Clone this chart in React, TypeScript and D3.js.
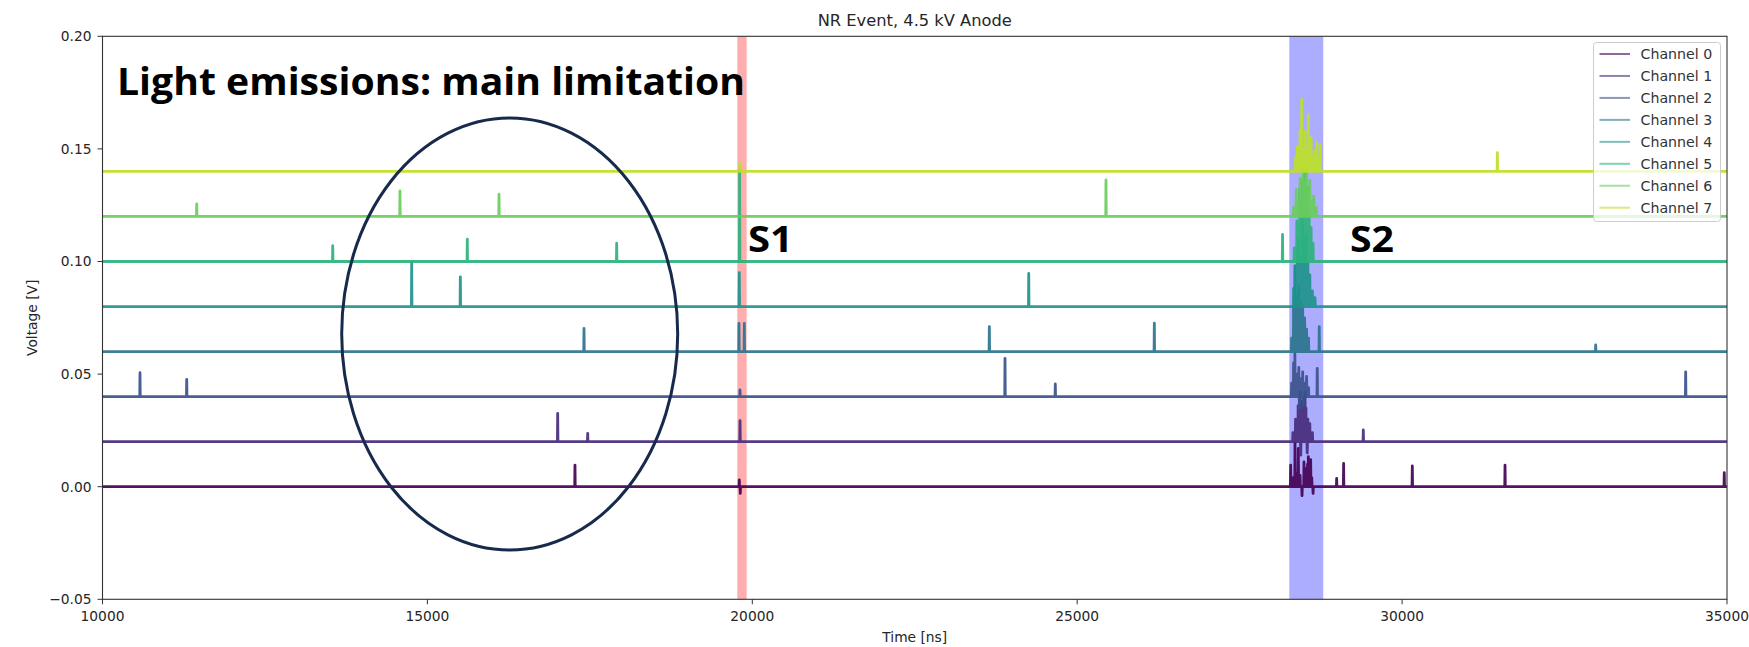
import React from "react";
import * as d3 from "d3";

// ---------- data ----------
const X_TICKS = [10000, 15000, 20000, 25000, 30000, 35000];
const Y_TICKS = [-0.05, 0.0, 0.05, 0.1, 0.15, 0.2];
const CHANNELS = ["Channel 0", "Channel 1", "Channel 2", "Channel 3", "Channel 4", "Channel 5", "Channel 6", "Channel 7"];
const BASELINES = [0.0, 0.02, 0.04, 0.06, 0.08, 0.1, 0.12, 0.14];
const S1_SPAN = [19769, 19913];
const S2_SPAN = [28264, 28787];

// spikes per channel: [time ns, voltage]
const ch0Spikes: [number, number][] = [
  [17271, 0.0096], [19800, 0.003], [19815, -0.003],
  [28285, 0.0096], [28320, 0.004], [28352, 0.0193], [28380, 0.006], [28403, 0.017], [28430, 0.005],
  [28460, -0.004], [28490, 0.011], [28520, 0.008], [28545, 0.01], [28557, 0.0133], [28593, 0.012],
  [28610, 0.004], [28630, -0.003], [28993, 0.0037], [29100, 0.0104],
  [30157, 0.0092], [31584, 0.0096], [34958, 0.0062],
];
const ch1Spikes: [number, number][] = [
  [17005, 0.0326], [17467, 0.0237], [19811, 0.0293],
  [28320, 0.024], [28360, 0.03], [28400, 0.036], [28430, 0.042], [28440, 0.014], [28460, 0.038],
  [28490, 0.04], [28506, 0.042], [28520, 0.035], [28540, 0.015], [28550, 0.03], [28580, 0.028], [28620, 0.024],
  [29403, 0.0252],
];
const ch2Spikes: [number, number][] = [
  [10577, 0.0506], [11296, 0.0477], [19810, 0.043],
  [23889, 0.057], [24663, 0.0456],
  [28300, 0.046], [28330, 0.055], [28350, 0.059], [28380, 0.05], [28410, 0.053], [28420, 0.035],
  [28440, 0.048], [28470, 0.051], [28480, 0.036], [28500, 0.046], [28530, 0.049], [28560, 0.044],
  [28694, 0.0525], [34364, 0.051],
];
const ch3Spikes: [number, number][] = [
  [17410, 0.0703], [19795, 0.0725], [19877, 0.0725], [23648, 0.0711], [26187, 0.0726],
  [28300, 0.066], [28330, 0.08], [28350, 0.098], [28380, 0.085], [28410, 0.089], [28440, 0.082],
  [28470, 0.08], [28500, 0.075], [28530, 0.07], [28560, 0.066], [28725, 0.0711],
  [32979, 0.063],
];
const ch4Spikes: [number, number][] = [
  [14758, 0.0999], [15507, 0.0932], [19800, 0.095], [24254, 0.0947],
  [28330, 0.088], [28360, 0.098], [28390, 0.105], [28410, 0.11], [28440, 0.102], [28470, 0.118],
  [28490, 0.108], [28520, 0.112], [28550, 0.1], [28580, 0.094], [28620, 0.087], [28660, 0.084],
];
const ch5Spikes: [number, number][] = [
  [13543, 0.107], [15614, 0.1099], [17913, 0.1081], [19805, 0.1403], [28160, 0.112],
  [28340, 0.106], [28380, 0.118], [28400, 0.112], [28425, 0.132], [28450, 0.124], [28470, 0.136],
  [28500, 0.14], [28520, 0.128], [28545, 0.133], [28570, 0.122], [28600, 0.115], [28630, 0.108],
];
const ch6Spikes: [number, number][] = [
  [11450, 0.1256], [14578, 0.1313], [16102, 0.1299], [25443, 0.1362],
  [28330, 0.124], [28370, 0.132], [28400, 0.126], [28430, 0.137], [28455, 0.128], [28480, 0.141],
  [28505, 0.135], [28530, 0.143], [28555, 0.131], [28580, 0.136], [28610, 0.127], [28640, 0.129], [28680, 0.124],
];
const ch7Spikes: [number, number][] = [
  [19811, 0.1437],
  [28360, 0.146], [28387, 0.151], [28410, 0.145], [28430, 0.158], [28455, 0.172], [28475, 0.15],
  [28490, 0.147], [28506, 0.158], [28530, 0.149], [28557, 0.165], [28575, 0.15], [28600, 0.155],
  [28620, 0.146], [28650, 0.149], [28685, 0.153], [28705, 0.146], [28736, 0.152],
  [31466, 0.1483],
];
const SPIKES = [ch0Spikes, ch1Spikes, ch2Spikes, ch3Spikes, ch4Spikes, ch5Spikes, ch6Spikes, ch7Spikes];

const TITLE = "NR Event, 4.5 kV Anode";
const X_LABEL = "Time [ns]";
const Y_LABEL = "Voltage [V]";
const NOTE = "Light emissions: main limitation";

// ---------- layout ----------
const W = 1749, H = 647;
const L = 102.5, R = 1727, T = 36.3, B = 599.3;

export default function App() {
  const x = d3.scaleLinear().domain([10000, 35000]).range([L, R]);
  const y = d3.scaleLinear().domain([-0.05, 0.2]).range([B, T]);
  const color = (i: number) => d3.interpolateViridis((i / 7) * 0.9);
  const line = d3.line<[number, number]>().x((d) => x(d[0])).y((d) => y(d[1]));

  const traces = SPIKES.map((sp, i) => {
    const base = BASELINES[i];
    const pts: [number, number][] = [[10000, base]];
    [...sp].sort((a, b) => a[0] - b[0]).forEach(([t, v]) => {
      pts.push([t - 4, base], [t, v], [t + 4, base]);
    });
    pts.push([35000, base]);
    return pts;
  });

  const tickFont = "DejaVu Sans, sans-serif";
  const fmt = (v: number) => v.toFixed(2).replace("-", "\u2212");

  return (
    <svg width={W} height={H} style={{ position: "absolute", left: 0, top: 0, background: "#fff" }}>
      <rect x={0} y={0} width={W} height={H} fill="#fff" />
      {/* spans */}
      <rect x={x(S1_SPAN[0])} y={T} width={x(S1_SPAN[1]) - x(S1_SPAN[0])} height={B - T} fill="#ff0000" fillOpacity={0.32} />
      <rect x={x(S2_SPAN[0])} y={T} width={x(S2_SPAN[1]) - x(S2_SPAN[0])} height={B - T} fill="#0000ff" fillOpacity={0.32} />
      {/* traces */}
      <g clipPath="url(#plotclip)">
        {traces.map((pts, i) => (
          <path key={i} d={line(pts) || ""} fill="none" stroke={color(i)} strokeWidth={2.8} strokeOpacity={0.92} strokeLinejoin="round" />
        ))}
      </g>
      <defs>
        <clipPath id="plotclip">
          <rect x={L} y={T} width={R - L} height={B - T} />
        </clipPath>
      </defs>
      {/* frame */}
      <rect x={L} y={T} width={R - L} height={B - T} fill="none" stroke="#333" strokeWidth={1.1} />
      {/* x ticks */}
      {X_TICKS.map((t) => (
        <g key={t}>
          <line x1={x(t)} x2={x(t)} y1={B} y2={B + 5} stroke="#333" strokeWidth={1} />
          <text x={x(t)} y={B + 22} textAnchor="middle" fontFamily={tickFont} fontSize={13.8} fill="#262626">{t}</text>
        </g>
      ))}
      {/* y ticks */}
      {Y_TICKS.map((v) => (
        <g key={v}>
          <line x1={L - 5} x2={L} y1={y(v)} y2={y(v)} stroke="#333" strokeWidth={1} />
          <text x={L - 11} y={y(v)} dy="0.35em" textAnchor="end" fontFamily={tickFont} fontSize={13.8} fill="#262626">{fmt(v)}</text>
        </g>
      ))}
      {/* labels */}
      <text x={(L + R) / 2} y={642} textAnchor="middle" fontFamily={tickFont} fontSize={13.8} fill="#262626">{X_LABEL}</text>
      <text transform={`translate(37,${(T + B) / 2}) rotate(-90)`} textAnchor="middle" fontFamily={tickFont} fontSize={13.8} fill="#262626">{Y_LABEL}</text>
      <text x={(L + R) / 2} y={26} textAnchor="middle" fontFamily={tickFont} fontSize={16.3} fill="#262626">{TITLE}</text>
      {/* legend */}
      <g>
        <rect x={1593.5} y={42.5} width={127} height={179} rx={3} fill="#fff" fillOpacity={0.8} stroke="#cccccc" strokeWidth={1} />
        {CHANNELS.map((c, i) => {
          const ly = 54 + i * 21.96;
          return (
            <g key={c}>
              <line x1={1599.5} x2={1630} y1={ly} y2={ly} stroke={color(i)} strokeWidth={2} strokeOpacity={0.6} />
              <text x={1640.5} y={ly} dy="0.35em" fontFamily={tickFont} fontSize={14.2} fill="#333">{c}</text>
            </g>
          );
        })}
      </g>
      {/* annotations */}
      <ellipse cx={509.7} cy={334} rx={168} ry={216} fill="none" stroke="#172a4c" strokeWidth={3} />
      <text x={117} y={95} fontFamily="Open Sans, sans-serif" fontWeight={700} fontSize={37} fill="#000" textLength={628} lengthAdjust="spacingAndGlyphs">{NOTE}</text>
      <text x={748} y={251.5} fontFamily="Open Sans, sans-serif" fontWeight={700} fontSize={35} fill="#000" textLength={45} lengthAdjust="spacingAndGlyphs">S1</text>
      <text x={1350} y={251.5} fontFamily="Open Sans, sans-serif" fontWeight={700} fontSize={35} fill="#000" textLength={44} lengthAdjust="spacingAndGlyphs">S2</text>
    </svg>
  );
}
